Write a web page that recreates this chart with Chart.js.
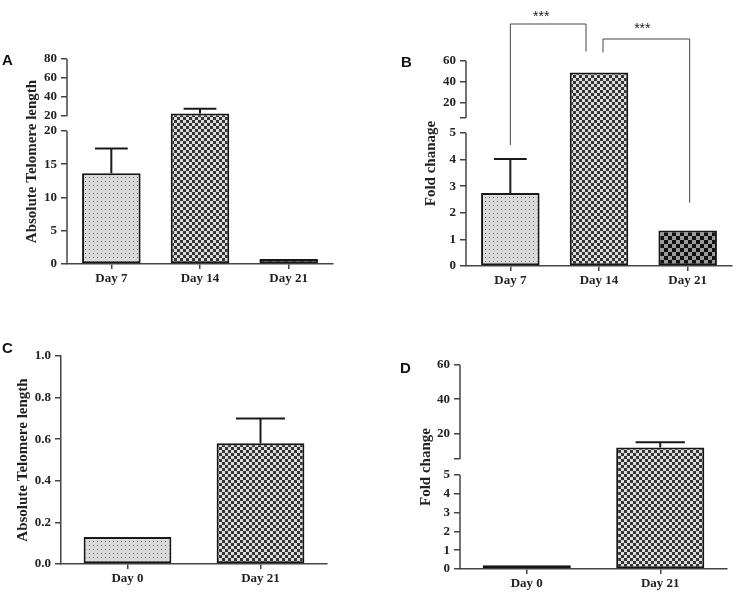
<!DOCTYPE html>
<html>
<head>
<meta charset="utf-8">
<script src="https://cdn.jsdelivr.net/npm/chart.js@4.4.1/dist/chart.umd.min.js"></script>
<style>
  body { margin: 0; background: #fff; }
  #wrap { position: relative; width: 742px; height: 593px; }
  #wrap canvas { position: absolute; left: 0; top: 0; }
  .tag { position: absolute; font: bold 15px "Liberation Sans", Arial, sans-serif; line-height: 15px; color: #111; }
</style>
</head>
<body>
<div id="wrap">
  <canvas id="chartA" width="742" height="593"></canvas>
  <canvas id="chartB" width="742" height="593"></canvas>
  <canvas id="chartC" width="742" height="593"></canvas>
  <canvas id="chartD" width="742" height="593"></canvas>
  <div class="tag" style="left:2px;top:52px">A</div>
  <div class="tag" style="left:401px;top:54px">B</div>
  <div class="tag" style="left:2px;top:340px">C</div>
  <div class="tag" style="left:400px;top:360px">D</div>
</div>
<script>
// A - absolute telomere length, day 7/14/21
const daysA = ['Day 7', 'Day 14', 'Day 21'];
const meanA = [13.65, 22.7, 0.75];
const errA = [3.7, 5.0, 0];
const lowTicksA = [0, 5, 10, 15, 20];
const highTicksA = [20, 40, 60, 80];

// B - fold change, day 7/14/21
const daysB = ['Day 7', 'Day 14', 'Day 21'];
const meanB = [2.74, 49, 1.33];
const errB = [1.28, 0, 0];
const lowTicksB = [0, 1, 2, 3, 4, 5];
const highTicksB = [20, 40, 60];
const pairsB = [[0, 1], [1, 2]];
const starsB = ['***', '***'];

// C - absolute telomere length, day 0/21
const daysC = ['Day 0', 'Day 21'];
const meanC = [0.13, 0.58];
const errC = [0, 0.12];
const ticksC = [0, 0.2, 0.4, 0.6, 0.8, 1.0];

// D - fold change, day 0/21
const daysD = ['Day 0', 'Day 21'];
const meanD = [0.2, 11.7];
const errD = [0, 3.1];
const lowTicksD = [0, 1, 2, 3, 4, 5];
const highTicksD = [20, 40, 60];

const serif = '"Liberation Serif", "Times New Roman", serif';

// broken y axes: value range of each piece and where it sits in the plot height
const axisBreaks = {
  chartA: [
    { min: 0, max: 20, ticks: lowTicksA, from: 0, to: 0.649 },
    { min: 20, max: 80, ticks: highTicksA, from: 0.722, to: 1 }
  ],
  chartB: [
    { min: 0, max: 5, ticks: lowTicksB, from: 0, to: 0.649 },
    { min: 5, max: 60, ticks: highTicksB, from: 0.722, to: 1 }
  ],
  chartD: [
    { min: 0, max: 5, ticks: lowTicksD, from: 0, to: 0.461 },
    { min: 5, max: 60, ticks: highTicksD, from: 0.539, to: 1 }
  ]
};

class BrokenScale extends Chart.LinearScale {
  segs() {
    return axisBreaks[this.chart.canvas.id];
  }
  determineDataLimits() {
    const segs = this.segs();
    this.min = segs[0].min;
    this.max = segs[segs.length - 1].max;
  }
  buildTicks() {
    const ticks = [];
    this.segs().forEach((s, k) => {
      if (!s.ticks.includes(s.min)) ticks.push({ value: s.min, seg: k, lbl: '' });
      s.ticks.forEach(v => ticks.push({ value: v, seg: k, lbl: String(v) }));
    });
    return ticks;
  }
  segFrac(v, k) {
    const s = this.segs()[k];
    return s.from + (v - s.min) / (s.max - s.min) * (s.to - s.from);
  }
  getPixelForValue(v) {
    const segs = this.segs();
    let k = segs.findIndex(s => v <= s.max);
    if (k < 0) k = segs.length - 1;
    return this.getPixelForDecimal(this.segFrac(v, k));
  }
  getPixelForTick(i) {
    const t = this.ticks[i];
    return this.getPixelForDecimal(this.segFrac(t.value, t.seg));
  }
  getValueForPixel(p) {
    const d = this.getDecimalForPixel(p);
    const segs = this.segs();
    for (const s of segs) {
      if (d <= s.to) return s.min + (Math.max(d, s.from) - s.from) / (s.to - s.from) * (s.max - s.min);
    }
    return segs[segs.length - 1].max;
  }
}
BrokenScale.id = 'broken';
BrokenScale.defaults = {};
Chart.register(BrokenScale);

function makePattern(size, draw) {
  const c = document.createElement('canvas');
  c.width = size;
  c.height = size;
  const g = c.getContext('2d');
  draw(g);
  return g.createPattern(c, 'repeat');
}
const dots = makePattern(4, g => {
  g.fillStyle = '#dadada'; g.fillRect(0, 0, 4, 4);
  g.fillStyle = '#6a6a6a'; g.fillRect(1, 1, 1, 1);
});
const fine = makePattern(6, g => {
  g.fillStyle = '#dcdcdc'; g.fillRect(0, 0, 6, 6);
  g.fillStyle = '#353535'; g.fillRect(0, 0, 3, 3); g.fillRect(3, 3, 3, 3);
});
const coarse = makePattern(8, g => {
  g.fillStyle = '#9a9a9a'; g.fillRect(0, 0, 8, 8);
  g.fillStyle = '#111'; g.fillRect(0, 0, 4, 4); g.fillRect(4, 4, 4, 4);
});

function decor(errs, brackets) {
  return {
    id: 'decor',
    afterDatasetsDraw(chart) {
      const ctx = chart.ctx, x = chart.scales.x, y = chart.scales.y;
      const vals = chart.data.datasets[0].data;
      const bars = chart.getDatasetMeta(0).data;
      const topOf = i => y.getPixelForValue(vals[i] + errs[i]);
      ctx.save();
      // upper error bars
      ctx.strokeStyle = '#1a1a1a';
      ctx.lineWidth = 2;
      bars.forEach((bar, i) => {
        if (!errs[i]) return;
        const t = topOf(i), half = bar.width * 0.28;
        ctx.beginPath();
        ctx.moveTo(bar.x, bar.y);
        ctx.lineTo(bar.x, t);
        ctx.moveTo(bar.x - half, t);
        ctx.lineTo(bar.x + half, t);
        ctx.stroke();
      });
      // y axis line in pieces
      const segs = axisBreaks[chart.canvas.id];
      if (segs) {
        ctx.strokeStyle = '#444';
        ctx.lineWidth = 1.5;
        segs.forEach(s => {
          ctx.beginPath();
          ctx.moveTo(y.right, y.getPixelForDecimal(s.from));
          ctx.lineTo(y.right, y.getPixelForDecimal(s.to));
          ctx.stroke();
        });
      }
      // significance brackets
      (brackets || []).forEach(b => {
        const x1 = x.getPixelForValue(b.from) + b.dx1;
        const x2 = x.getPixelForValue(b.to) + b.dx2;
        const top = chart.chartArea.top + b.rise;
        ctx.strokeStyle = '#444';
        ctx.lineWidth = 1;
        ctx.beginPath();
        ctx.moveTo(x1, topOf(b.from) - b.gap1);
        ctx.lineTo(x1, top);
        ctx.lineTo(x2, top);
        ctx.lineTo(x2, topOf(b.to) - b.gap2);
        ctx.stroke();
        ctx.fillStyle = '#222';
        ctx.font = '14px "Liberation Sans", Arial, sans-serif';
        ctx.textAlign = 'center';
        ctx.textBaseline = 'alphabetic';
        ctx.fillText(b.text, (x1 + x2) / 2 + b.tx, top - b.ty);
      });
      ctx.restore();
    }
  };
}

function yAxis(title, width, extra) {
  return Object.assign({
    type: 'broken',
    grid: { drawOnChartArea: false, tickLength: 6, color: '#444', lineWidth: 1.5 },
    border: { display: false },
    ticks: {
      autoSkip: false, padding: 4, color: '#222',
      font: { family: serif, size: 13, weight: 'bold' },
      callback: (v, i, t) => t[i].lbl
    },
    title: { display: true, text: title, padding: 0, color: '#222', font: { family: serif, size: 15, weight: 'bold' } },
    afterFit: s => { s.width = width; }
  }, extra || {});
}

function barChart(id, labels, values, errs, fills, yScale, pad, brackets) {
  return new Chart(document.getElementById(id), {
    type: 'bar',
    data: {
      labels: labels,
      datasets: [{
        data: values,
        backgroundColor: fills,
        borderColor: '#151515',
        borderWidth: 2,
        borderSkipped: false,
        categoryPercentage: 1,
        barPercentage: 0.66
      }]
    },
    options: {
      responsive: false,
      animation: false,
      devicePixelRatio: 1,
      layout: { padding: pad },
      plugins: { legend: { display: false }, tooltip: { enabled: false } },
      scales: {
        x: {
          grid: { offset: false, drawOnChartArea: false, tickLength: 5, color: '#444', lineWidth: 1.5 },
          border: { color: '#444', width: 1.5 },
          ticks: { color: '#222', padding: 2, font: { family: serif, size: 13, weight: 'bold' } },
          afterFit: s => { s.height = 24; }
        },
        y: yScale
      }
    },
    plugins: [decor(errs, brackets)]
  });
}

barChart('chartA', daysA, meanA, errA, [dots, fine, coarse],
  yAxis('Absolute Telomere length', 44),
  { left: 23, top: 59, right: 409, bottom: 305 });

const bracketsB = [
  { from: pairsB[0][0], to: pairsB[0][1], text: starsB[0], dx1: 0, dx2: -13, rise: -37, gap1: 14, gap2: 21, tx: -7, ty: 3 },
  { from: pairsB[1][0], to: pairsB[1][1], text: starsB[1], dx1: 4, dx2: 2, rise: -22, gap1: 20, gap2: 28, tx: -4, ty: 6 }
];
barChart('chartB', daysB, meanB, errB, [dots, fine, coarse],
  yAxis('Fold chanage', 44),
  { left: 422, top: 61, right: 10, bottom: 303 }, bracketsB);

barChart('chartC', daysC, meanC, errC, [dots, fine],
  yAxis('Absolute Telomere length', 47, {
    type: 'linear', min: 0, max: 1,
    border: { color: '#444', width: 1.5 },
    afterBuildTicks: s => { s.ticks = ticksC.map(v => ({ value: v })); },
    ticks: { autoSkip: false, padding: 4, color: '#222', font: { family: serif, size: 13, weight: 'bold' }, callback: v => v.toFixed(1) }
  }),
  { left: 14, top: 356, right: 415, bottom: 5 });

barChart('chartD', daysD, meanD, errD, [dots, fine],
  yAxis('Fold change', 43),
  { left: 417, top: 365, right: 15, bottom: 0 });
</script>
</body>
</html>
